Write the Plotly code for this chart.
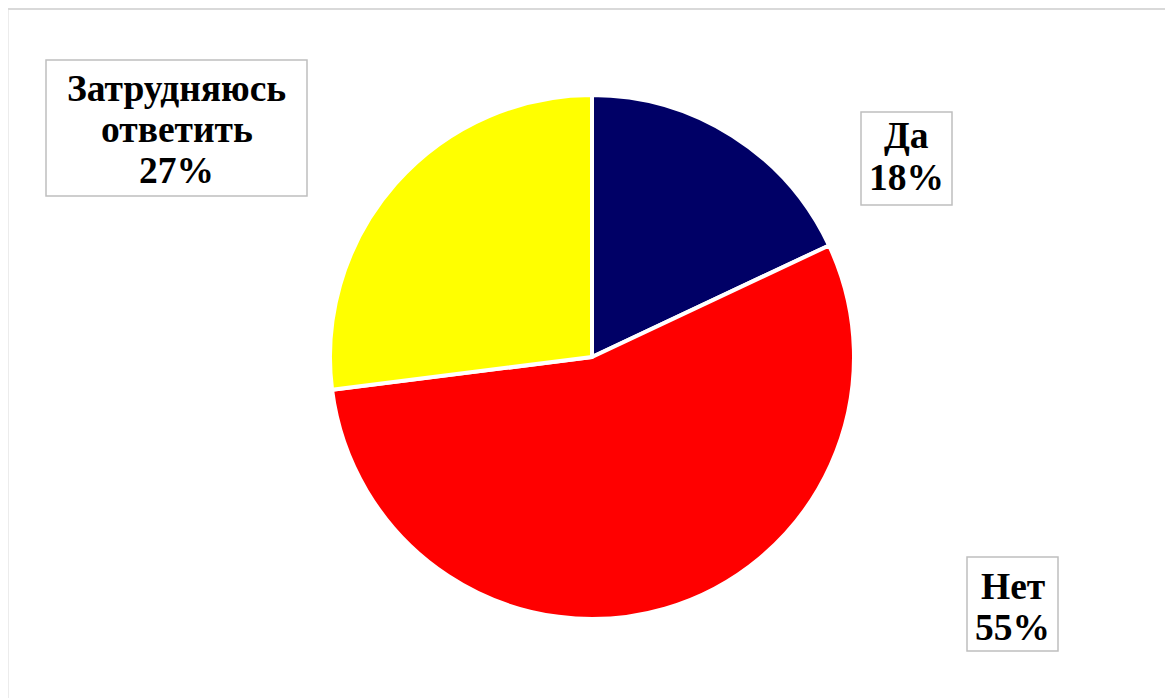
import plotly.graph_objects as go

categories = ["Да", "Нет", "Затрудняюсь ответить"]
values = [18, 55, 27]
label_lines = [["Да", "18%"], ["Нет", "55%"], ["Затрудняюсь", "ответить", "27%"]]
colors = ["#000066", "#FF0000", "#FFFF00"]

W, H = 1173, 698
OFF = 8  # page body margin

def px(x):
    return (x - OFF) / W

def py(y):
    return 1 - (y - OFF) / H

fig = go.Figure()
fig.add_trace(go.Pie(
    labels=categories,
    values=values,
    sort=False,
    direction="clockwise",
    rotation=0,
    textinfo="none",
    hoverinfo="label+percent",
    marker=dict(colors=colors, line=dict(color="white", width=4)),
    domain=dict(x=[px(330), px(854)], y=[py(619), py(95)]),
    showlegend=False,
))

# label boxes in page pixels: (x0, y0, x1, y1), first line center y, line step
boxes = [
    (861, 112, 952, 205, 136, 42),
    (967, 557, 1058, 651, 586, 41),
    (46, 60, 307, 196, 88, 41.5),
]
for lines, (x0, y0, x1, y1, first, step) in zip(label_lines, boxes):
    fig.add_shape(type="rect", xref="paper", yref="paper",
                  x0=px(x0), x1=px(x1), y0=py(y1), y1=py(y0),
                  line=dict(color="#bfbfbf", width=1.5), fillcolor="white", layer="above")
    cx = (x0 + x1) / 2
    for i, ln in enumerate(lines):
        fig.add_annotation(
            x=px(cx), y=py(first + i * step), xref="paper", yref="paper",
            xanchor="center", yanchor="middle",
            text="<b>" + ln + "</b>", showarrow=False,
            font=dict(family="Liberation Serif, Times New Roman, serif", size=37.5, color="black"),
            borderpad=0,
        )

fig.add_shape(type="rect", xref="paper", yref="paper",
              x0=px(7.5), x1=px(1190), y0=py(710), y1=py(9),
              line=dict(color="#d9d9d9", width=2))

fig.update_layout(
    width=W, height=H,
    margin=dict(l=0, r=0, t=0, b=0),
    paper_bgcolor="white", plot_bgcolor="white",
)
fig.write_html("out.html")
